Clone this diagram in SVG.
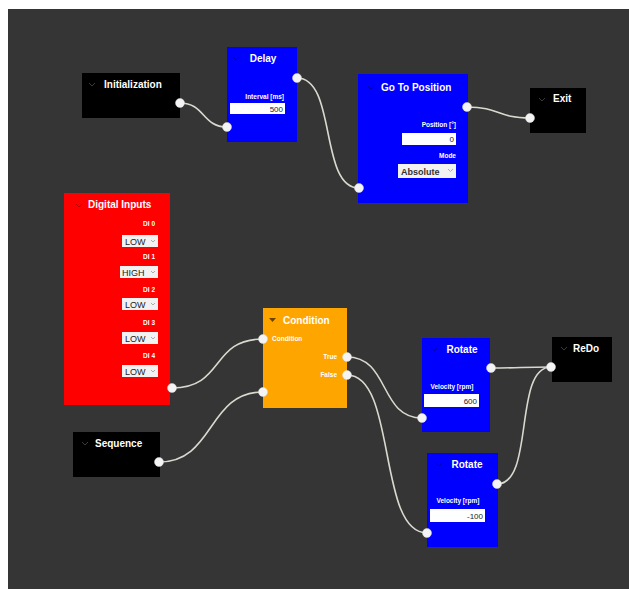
<svg xmlns="http://www.w3.org/2000/svg" width="629" height="589" viewBox="0 0 629 589">
<style>
.title{font-family:"Liberation Sans",Arial,sans-serif;font-weight:bold;font-size:10px;fill:#ffffff}
.lbl{font-family:"Liberation Sans",Arial,sans-serif;font-weight:bold;font-size:6.5px;fill:#ffffff}
.tb{fill:#ffffff}
.val{font-family:"Liberation Sans",Arial,sans-serif;font-size:8px;fill:#222222}
.dd{fill:#f2f2f2}
.ddt{font-family:"Liberation Sans",Arial,sans-serif;font-size:9px;fill:#222222}
.ddb{font-family:"Liberation Sans",Arial,sans-serif;font-weight:bold;font-size:9px;fill:#333333}
.arrow{fill:none;stroke:#999999;stroke-width:0.8}
.chev{fill:none;stroke:#3a3a3a;stroke-width:1}
.chevc{fill:none;stroke:rgba(0,0,0,0.3);stroke-width:1}
.port{fill:#f4f4f4;stroke:#d8d8d8;stroke-width:0.5}
.wire{fill:none;stroke:#d9d9d0;stroke-width:1.6}
</style>
<rect x="0" y="0" width="629" height="589" fill="#ffffff"/>
<rect x="8" y="9" width="621" height="580" fill="#353535"/>

<g id="connectors">
<path class="wire" d="M180,103 C205,103 202,127 227,127"/>
<path class="wire" d="M297,78 C337,78 319,188 359,188"/>
<path class="wire" d="M467,107 C500,107 497,118 530,118"/>
<path class="wire" d="M172,388 C225,388 210,339 263,339"/>
<path class="wire" d="M159,462 C215,462 207,392 263,392"/>
<path class="wire" d="M347,357 C390,357 379,418 422,418"/>
<path class="wire" d="M347,375 C397,375 377,533 427,533"/>
<path class="wire" d="M491,368 C521,368 521,367 551,367"/>
<path class="wire" d="M497,484 C535,484 513,367 551,367"/>
</g>

<g id="initialization">
<rect x="82" y="73" width="98" height="45" fill="#000000"/>
<path class="chev" d="M89,83 l3,3 l3,-3"/>
<text class="title" x="104" y="88">Initialization</text>
<circle class="port" cx="180" cy="103" r="4.5"/>
</g>

<g id="delay">
<rect x="227" y="47" width="70" height="95" fill="#0000ff"/>
<path class="chevc" d="M233,57 l3,3 l3,-3"/>
<text class="title" x="263" y="62" text-anchor="middle">Delay</text>
<text class="lbl" x="284" y="99" text-anchor="end">Interval [ms]</text>
<rect class="tb" x="230" y="103" width="55" height="11"/>
<text class="val" x="283" y="111.5" text-anchor="end">500</text>
<circle class="port" cx="297" cy="78" r="4.5"/>
<circle class="port" cx="227" cy="127" r="4.5"/>
</g>

<g id="goto">
<rect x="358" y="74" width="110" height="129" fill="#0000ff"/>
<path class="chevc" d="M368,86 l3,3 l3,-3"/>
<text class="title" x="381" y="91">Go To Position</text>
<text class="lbl" x="456" y="127" text-anchor="end">Position [°]</text>
<rect class="tb" x="402" y="133" width="54" height="12"/>
<text class="val" x="454" y="142" text-anchor="end">0</text>
<text class="lbl" x="456" y="158" text-anchor="end">Mode</text>
<rect class="dd" x="398" y="164" width="58" height="14"/>
<text class="ddb" x="401" y="174.5">Absolute</text>
<path class="arrow" d="M448,169 l2.5,2.5 l2.5,-2.5"/>
<circle class="port" cx="467" cy="107" r="4.5"/>
<circle class="port" cx="359" cy="188" r="4.5"/>
</g>

<g id="exit">
<rect x="530" y="88" width="56" height="45" fill="#000000"/>
<path class="chev" d="M539,98 l3,3 l3,-3"/>
<text class="title" x="553" y="102">Exit</text>
<circle class="port" cx="530" cy="118" r="4.5"/>
</g>

<g id="digital-inputs">
<rect x="64" y="193" width="106" height="212" fill="#ff0000"/>
<path class="chevc" d="M76,204 l3,3 l3,-3"/>
<text class="title" x="88" y="208">Digital Inputs</text>
<text class="lbl" x="155" y="226" text-anchor="end">DI 0</text>
<rect class="dd" x="122" y="235" width="36" height="12"/>
<text class="ddt" x="125" y="244.5">LOW</text>
<path class="arrow" d="M151,240 l2,2 l2,-2"/>
<text class="lbl" x="155" y="259" text-anchor="end">DI 1</text>
<rect class="dd" x="120" y="266" width="38" height="12"/>
<text class="ddt" x="122" y="275.5">HIGH</text>
<path class="arrow" d="M151,271 l2,2 l2,-2"/>
<text class="lbl" x="155" y="292" text-anchor="end">DI 2</text>
<rect class="dd" x="122" y="298" width="36" height="12"/>
<text class="ddt" x="125" y="307.5">LOW</text>
<path class="arrow" d="M151,303 l2,2 l2,-2"/>
<text class="lbl" x="155" y="325" text-anchor="end">DI 3</text>
<rect class="dd" x="122" y="332" width="36" height="12"/>
<text class="ddt" x="125" y="341.5">LOW</text>
<path class="arrow" d="M151,337 l2,2 l2,-2"/>
<text class="lbl" x="155" y="358" text-anchor="end">DI 4</text>
<rect class="dd" x="122" y="365" width="36" height="12"/>
<text class="ddt" x="125" y="374.5">LOW</text>
<path class="arrow" d="M151,370 l2,2 l2,-2"/>
<circle class="port" cx="172" cy="388" r="4.5"/>
</g>

<g id="condition">
<rect x="263" y="308" width="84" height="100" fill="#ffa500"/>
<path d="M269,318 h7 l-3.5,4 z" fill="#6b4500"/>
<text class="title" x="283" y="324">Condition</text>
<text class="lbl" x="272" y="341">Condition</text>
<text class="lbl" x="337" y="359" text-anchor="end">True</text>
<text class="lbl" x="337" y="377" text-anchor="end">False</text>
<circle class="port" cx="263" cy="339" r="4.5"/>
<circle class="port" cx="263" cy="392" r="4.5"/>
<circle class="port" cx="347" cy="357" r="4.5"/>
<circle class="port" cx="347" cy="375" r="4.5"/>
</g>

<g id="rotate1">
<rect x="422" y="338" width="68" height="94" fill="#0000ff"/>
<path class="chevc" d="M431,348 l3,3 l3,-3"/>
<text class="title" x="462" y="353" text-anchor="middle">Rotate</text>
<text class="lbl" x="452" y="389" text-anchor="middle">Velocity [rpm]</text>
<rect class="tb" x="424" y="394" width="55" height="13"/>
<text class="val" x="477" y="403.5" text-anchor="end">600</text>
<circle class="port" cx="491" cy="368" r="4.5"/>
<circle class="port" cx="422" cy="418" r="4.5"/>
</g>

<g id="rotate2">
<rect x="427" y="453" width="71" height="94" fill="#0000ff"/>
<path class="chevc" d="M436,463 l3,3 l3,-3"/>
<text class="title" x="467" y="468" text-anchor="middle">Rotate</text>
<text class="lbl" x="458" y="503" text-anchor="middle">Velocity [rpm]</text>
<rect class="tb" x="430" y="509" width="55" height="13"/>
<text class="val" x="483" y="518.5" text-anchor="end">-100</text>
<circle class="port" cx="497" cy="484" r="4.5"/>
<circle class="port" cx="427" cy="533" r="4.5"/>
</g>

<g id="redo">
<rect x="552" y="337" width="60" height="45" fill="#000000"/>
<path class="chev" d="M561,347 l3,3 l3,-3"/>
<text class="title" x="573" y="352">ReDo</text>
<circle class="port" cx="551" cy="367" r="4.5"/>
</g>

<g id="sequence">
<rect x="73" y="432" width="87" height="45" fill="#000000"/>
<path class="chev" d="M82,442 l3,3 l3,-3"/>
<text class="title" x="95" y="447">Sequence</text>
<circle class="port" cx="159" cy="462" r="4.5"/>
</g>
</svg>
